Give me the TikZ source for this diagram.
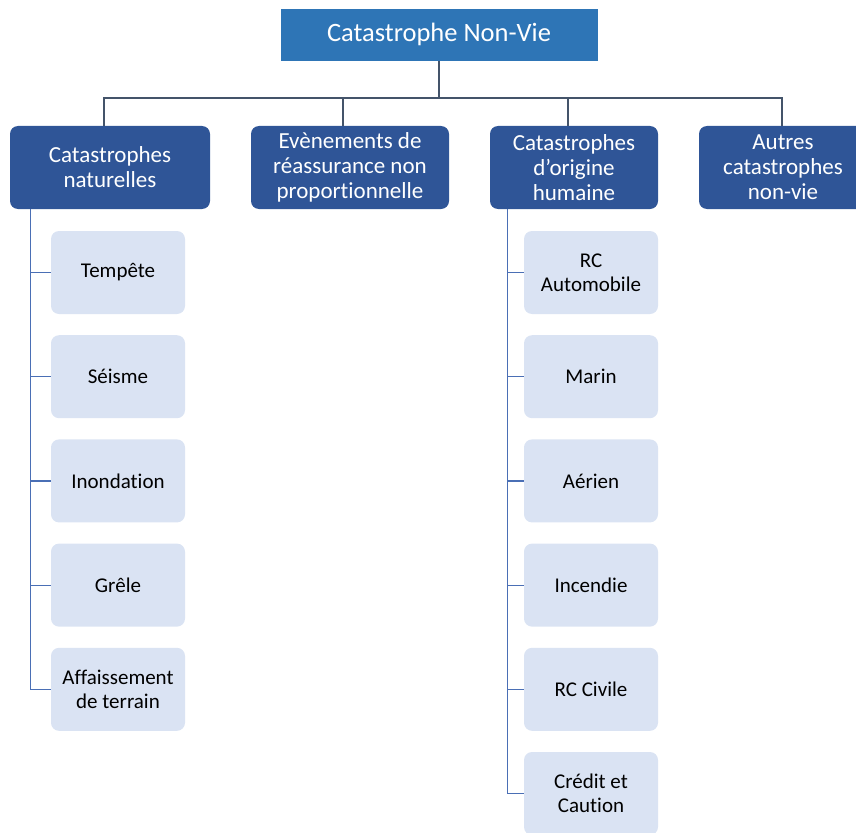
\documentclass[tikz,border=0pt]{standalone}
\usepackage{fontspec}
\setmainfont[Ligatures=NoCommon]{Carlito}
\usepackage{tikz}
\usetikzlibrary{calc}

\definecolor{topblue}{HTML}{2E75B6}
\definecolor{darkblue}{HTML}{2F5597}
\definecolor{paleblue}{HTML}{DAE3F3}
\definecolor{busline}{HTML}{44546A}
\definecolor{subline}{HTML}{4A6FB5}

\tikzset{
  rootbox/.style={fill=topblue, draw=white, text=white, minimum width=318pt, minimum height=53pt, inner sep=0pt, font=\fontsize{26.5}{30}\selectfont},
  catbox/.style={fill=darkblue, text=white, rounded corners=8pt, minimum height=83pt, inner sep=0pt, align=center, font=\fontsize{23}{25}\selectfont},
  subbox/.style={fill=paleblue, text=black, rounded corners=8pt, minimum width=134pt, minimum height=83pt, inner sep=0pt, align=center, font=\fontsize{21}{24}\selectfont},
  bus/.style={busline, line width=1.2pt},
  twig/.style={subline, line width=1.2pt}
}

\begin{document}
\begin{tikzpicture}[x=1pt,y=-1pt]
\useasboundingbox (0,0) rectangle (856,832);
\pgfmathsetmacro{\pitch}{104.2}
\pgfmathsetmacro{\first}{272.5}

\node[rootbox] (root) at (439,34.5) {Catastrophe Non-Vie};

\node[catbox, minimum width=200pt] (nat) at (110,167.5) {Catastrophes\\naturelles};
\node[catbox, minimum width=198pt] (rea) at (350,167.5) {Evènements de\\réassurance non\\proportionnelle};
\node[catbox, minimum width=168pt] (hum) at (574,167.5) {Catastrophes\\d’origine\\humaine};
\node[catbox, minimum width=168pt] (aut) at (783,167.5) {Autres\\catastrophes\\non-vie};

\coordinate (busy) at (439,98);
\draw[bus] (root.south) -- (busy);
\draw[bus] ([xshift=-6pt]nat.north) |- (busy);
\draw[bus] ([xshift=-7pt]rea.north) |- (busy);
\draw[bus] ([xshift=-6pt]hum.north) |- (busy);
\draw[bus] ([xshift=-1pt]aut.north) |- (busy);

% natural
\foreach \i/\txt in {1/Tempête, 2/Séisme, 3/Inondation, 4/Grêle, 5/{Affaissement\\de terrain}}
  \node[subbox] (nat\i) at (118,{\first+(\i-1)*\pitch}) {\txt};
\foreach \i in {1,...,5}
  \draw[twig] ([xshift=21pt]nat.south west) |- (nat\i.west);

% human
\foreach \i/\txt in {1/{RC\\Automobile}, 2/Marin, 3/Aérien, 4/Incendie, 5/RC Civile, 6/{Crédit et\\Caution}}
  \node[subbox] (hum\i) at (591,{\first+(\i-1)*\pitch}) {\txt};
\foreach \i in {1,...,6}
  \draw[twig] ([xshift=18pt]hum.south west) |- (hum\i.west);
\end{tikzpicture}
\end{document}
